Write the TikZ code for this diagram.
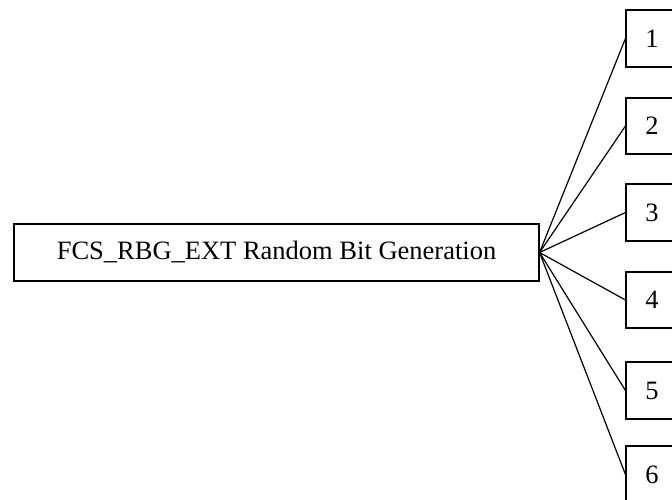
\documentclass[tikz,border=0pt]{standalone}
\usepackage{fontspec}
\setmainfont{Liberation Serif}
\begin{document}
\begin{tikzpicture}[x=1pt,y=-1pt,
  box/.style={draw,line width=1.1pt,inner sep=0pt,font=\fontsize{26.5}{29}\selectfont},
  link/.style={line width=1.2pt}]
\useasboundingbox (0,0) rectangle (672,499);
\clip (0,0) rectangle (672,499);
\fill[white] (0,0) rectangle (672,499);
\node[box,minimum width=525pt,minimum height=57pt] (main) at (276.5,252.5) {FCS\_RBG\_EXT Random Bit Generation};
\node[box,minimum width=52pt,minimum height=57pt] (b1) at (652,38.5) {1};
\node[box,minimum width=52pt,minimum height=56pt] (b2) at (652,126) {2};
\node[box,minimum width=52pt,minimum height=57pt] (b3) at (652,212.5) {3};
\node[box,minimum width=52pt,minimum height=56pt] (b4) at (652,300) {4};
\node[box,minimum width=52pt,minimum height=57pt] (b5) at (652,390.5) {5};
\node[box,minimum width=52pt,minimum height=57pt] (b6) at (652,474.5) {6};
\foreach \b in {b1,b2,b3,b4,b5,b6}
  \draw[link] (main.east) -- (\b.west);
\end{tikzpicture}
\end{document}
